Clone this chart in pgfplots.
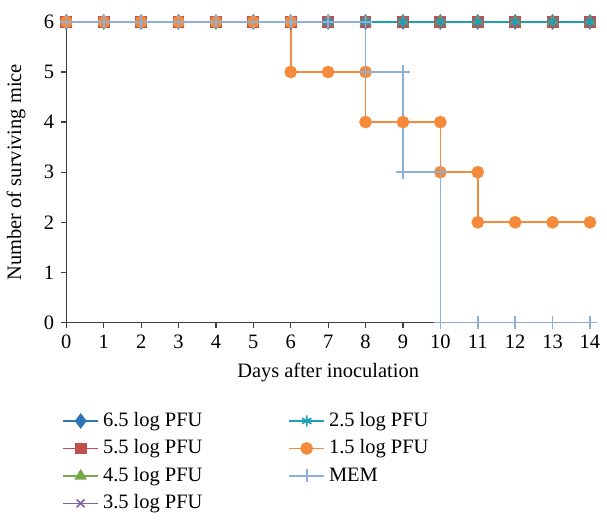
\documentclass[border=0pt]{standalone}
\usepackage{fontspec}
\setmainfont{Liberation Serif}
\usepackage{pgfplots}
\pgfplotsset{compat=1.18}
\definecolor{c65}{HTML}{2E75B6}
\definecolor{c55}{HTML}{C0504D}
\definecolor{c45}{HTML}{77A94A}
\definecolor{c35}{HTML}{8064A2}
\definecolor{c25}{HTML}{1F9FB5}
\definecolor{c15}{HTML}{F58A3A}
\definecolor{cmem}{HTML}{8EB0D8}
\begin{document}
\begin{tikzpicture}
\begin{axis}[
  scale only axis, width=256pt, height=147pt,
  xmin=0, xmax=14, ymin=0, ymax=6,
  xtick={0,...,14}, ytick={0,...,6},
  axis lines=left, axis line style={-, black!75, line width=0.6pt},
  tick align=outside, major tick length=2.5pt, tick style={black!75, line width=0.6pt},
  xlabel={Days after inoculation}, ylabel={Number of surviving mice},
  ylabel style={yshift=2pt},
  /pgf/number format/assume math mode=true,
  clip=false,
  every axis plot/.append style={line width=0.8pt, mark size=2.7pt},
  legend columns=2, legend cell align=left,
  legend style={draw=none, at={(-0.02,-0.27)}, anchor=north west,
    /tikz/every even column/.append style={column sep=40pt}, row sep=1pt},
]
\addplot[c65, mark=diamond*, mark size=3.2pt, forget plot] coordinates {(0,6)(1,6)(2,6)(3,6)(4,6)(5,6)(6,6)(7,6)(8,6)(9,6)(10,6)(11,6)(12,6)(13,6)(14,6)};
\addplot[c55, mark=square*, mark size=2.5pt, forget plot] coordinates {(0,6)(1,6)(2,6)(3,6)(4,6)(5,6)(6,6)(7,6)(8,6)(9,6)(10,6)(11,6)(12,6)(13,6)(14,6)};
\addplot[c45, mark=triangle*, forget plot] coordinates {(0,6)(1,6)(2,6)(3,6)(4,6)(5,6)(6,6)(7,6)(8,6)(9,6)(10,6)(11,6)(12,6)(13,6)(14,6)};
\addplot[c35, mark=x, forget plot] coordinates {(0,6)(1,6)(2,6)(3,6)(4,6)(5,6)(6,6)(7,6)(8,6)(9,6)(10,6)(11,6)(12,6)(13,6)(14,6)};
\addplot[c25, mark=asterisk, forget plot] coordinates {(0,6)(1,6)(2,6)(3,6)(4,6)(5,6)(6,6)(7,6)(8,6)(9,6)(10,6)(11,6)(12,6)(13,6)(14,6)};
\addplot[c15, mark=*, forget plot] coordinates {(0,6)(1,6)(2,6)(3,6)(4,6)(5,6)(6,6)(6,5)(7,5)(8,5)(8,4)(9,4)(10,4)(10,3)(11,3)(11,2)(12,2)(13,2)(14,2)};
\addplot[cmem, mark=+, mark size=3.2pt, forget plot] coordinates {(0,6)(1,6)(2,6)(3,6)(4,6)(5,6)(6,6)(7,6)(8,6)(8,5)(9,5)(9,3)(10,3)(10,0)(11,0)(12,0)(13,0)(14,0)};
% legend entries in the reference's order (two columns)
\addlegendimage{c65, mark=diamond*, mark size=3.2pt}
\addlegendentry{6.5 log PFU}
\addlegendimage{c25, mark=asterisk}
\addlegendentry{2.5 log PFU}
\addlegendimage{c55, mark=square*, mark size=2.5pt}
\addlegendentry{5.5 log PFU}
\addlegendimage{c15, mark=*}
\addlegendentry{1.5 log PFU}
\addlegendimage{c45, mark=triangle*}
\addlegendentry{4.5 log PFU}
\addlegendimage{cmem, mark=+, mark size=3.2pt}
\addlegendentry{MEM}
\addlegendimage{c35, mark=x}
\addlegendentry{3.5 log PFU}
\end{axis}
% a little white space above the plot, as in the reference
\path (current bounding box.north) ++(0,4pt);
\end{tikzpicture}
\end{document}
